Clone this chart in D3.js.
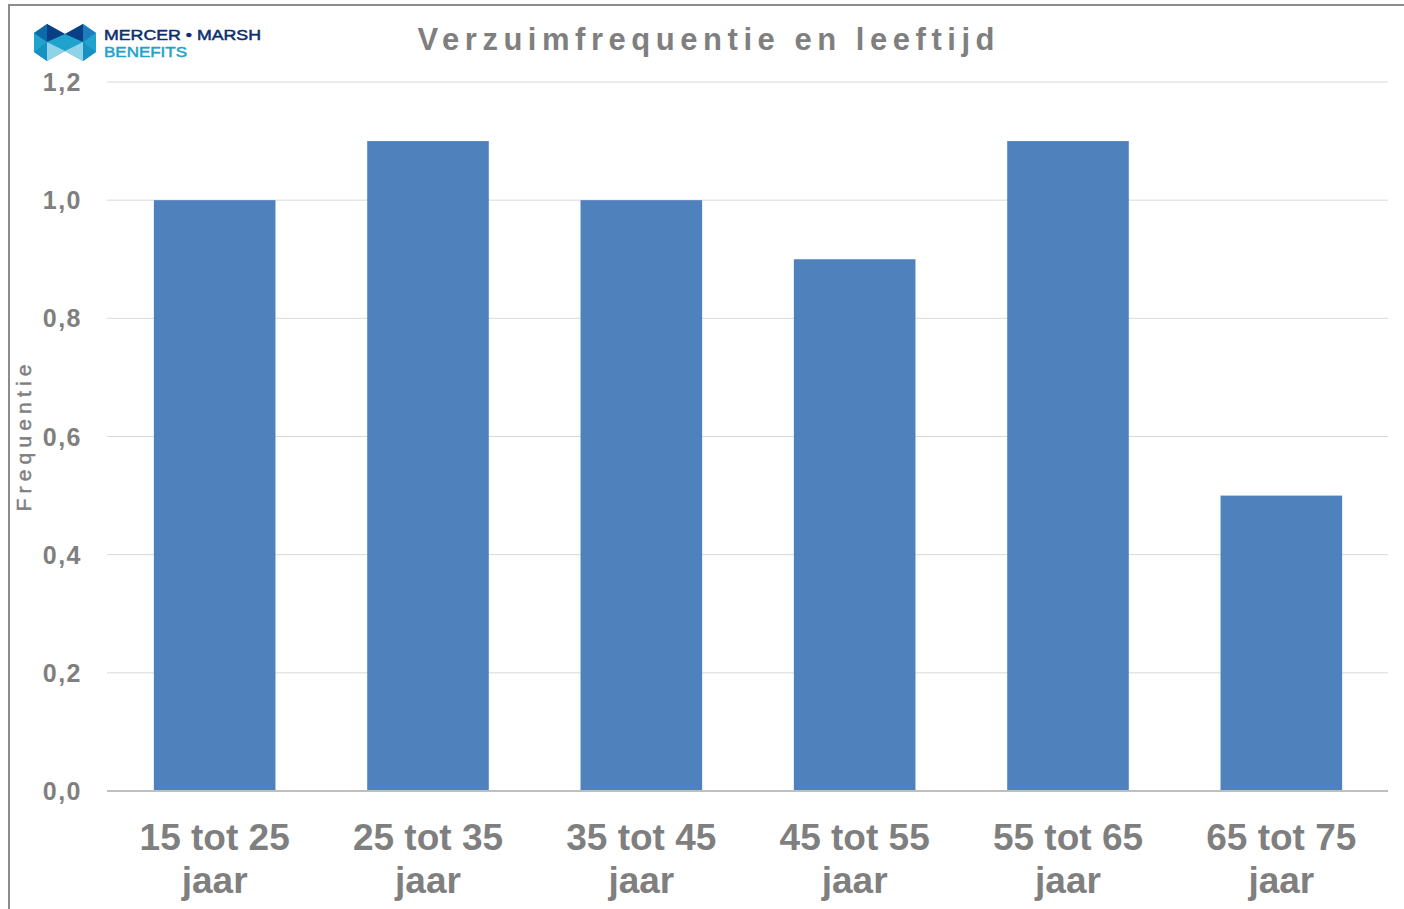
<!DOCTYPE html>
<html>
<head>
<meta charset="utf-8">
<script src="https://cdn.jsdelivr.net/npm/d3@7"></script>
<style>
html,body{margin:0;padding:0;background:#fff;}
svg{display:block;font-family:"Liberation Sans",Arial,sans-serif;}
</style>
</head>
<body>
<svg id="chart" width="1404" height="909"></svg>
<script>
const categories = ["15 tot 25|jaar","25 tot 35|jaar","35 tot 45|jaar","45 tot 55|jaar","55 tot 65|jaar","65 tot 75|jaar"];
const values = [1.0, 1.1, 1.0, 0.9, 1.1, 0.5];
const yTicks = [0, 0.2, 0.4, 0.6, 0.8, 1.0, 1.2];
const title = "Verzuimfrequentie en leeftijd";
const yTitle = "Frequentie";

const svg = d3.select("#chart");
const textGray = "#7f7f7f";

// frame (top and left edges)
svg.append("line").attr("x1",9).attr("x2",1404).attr("y1",5).attr("y2",5).attr("stroke","#8c8c8c").attr("stroke-width",2);
svg.append("line").attr("x1",9).attr("x2",9).attr("y1",4).attr("y2",909).attr("stroke","#8c8c8c").attr("stroke-width",2);

const x = d3.scaleBand().domain(categories).range([108,1388]).paddingInner(0.43).paddingOuter(0.215);
const y = d3.scaleLinear().domain([0,1.2]).range([791,82]);

// gridlines
svg.append("g").selectAll("line").data(yTicks.filter(d=>d>0)).join("line")
  .attr("x1",107).attr("x2",1388)
  .attr("y1",d=>y(d)).attr("y2",d=>y(d))
  .attr("stroke","#d9d9d9").attr("stroke-width",1);

// bars
svg.append("g").selectAll("rect").data(values).join("rect")
  .attr("x",(d,i)=>x(categories[i]))
  .attr("width",x.bandwidth())
  .attr("y",d=>y(d))
  .attr("height",d=>y(0)-y(d))
  .attr("fill","#4f81bd");

// x axis line
svg.append("line").attr("x1",107).attr("x2",1388).attr("y1",y(0)).attr("y2",y(0))
  .attr("stroke","#bfbfbf").attr("stroke-width",2);

// y tick labels
const fmt = d=>d3.format(".1f")(d).replace(".",",");
svg.append("g").selectAll("text").data(yTicks).join("text")
  .attr("x",82).attr("y",d=>y(d)).attr("dy","0.36em")
  .attr("text-anchor","end")
  .attr("font-size",25).attr("font-weight","bold").attr("letter-spacing",1.5)
  .attr("fill",textGray)
  .text(fmt);

// x labels
const xl = svg.append("g").selectAll("text").data(categories).join("text")
  .attr("text-anchor","middle")
  .attr("font-size",37).attr("font-weight","bold")
  .attr("fill",textGray);
xl.each(function(c){
  const parts = c.split("|");
  const cx = x(c)+x.bandwidth()/2;
  d3.select(this).selectAll("tspan").data(parts).join("tspan")
    .attr("x",cx).attr("y",(d,i)=>850+i*43).text(d=>d);
});

// title
svg.append("text").attr("x",706).attr("y",50).attr("text-anchor","middle")
  .attr("font-size",31).attr("font-weight","bold").attr("fill",textGray)
  .attr("textLength",577).attr("lengthAdjust","spacing")
  .text(title);

// y axis title
svg.append("text").attr("transform","translate(31,438) rotate(-90)")
  .attr("text-anchor","middle").attr("font-size",21).attr("fill",textGray)
  .attr("stroke",textGray).attr("stroke-width",0.5)
  .attr("textLength",147).attr("lengthAdjust","spacing")
  .text(yTitle);

// logo
const logo = svg.append("g");
const outline = [[34,33],[47,24],[65,34],[83,24],[96,33],[96,52],[83,61],[65,51],[47,61],[34,52]];
logo.append("polygon").attr("points",outline.map(p=>p.join(",")).join(" ")).attr("fill","#1fa3cc");
const polys = [
  {p:[[34,33],[47,24],[47,42]], c:"#0b6aa8"},
  {p:[[47,24],[65,34],[47,42]], c:"#0b3f84"},
  {p:[[65,34],[83,24],[83,42]], c:"#0b3f84"},
  {p:[[83,24],[96,33],[83,42]], c:"#1b7fbf"},
  {p:[[47,42],[65,51],[47,61]], c:"#8fd3e8"},
  {p:[[65,51],[83,42],[83,61]], c:"#8fd3e8"},
  {p:[[34,52],[47,42],[47,61]], c:"#1591c2"},
  {p:[[83,42],[96,52],[83,61]], c:"#1591c2"}
];
logo.selectAll("polygon.s").data(polys).join("polygon").attr("class","s")
  .attr("points",d=>d.p.map(p=>p.join(",")).join(" ")).attr("fill",d=>d.c);
logo.append("text").attr("x",104).attr("y",40).attr("font-size",15).attr("fill","#0b2f6e")
  .attr("stroke","#0b2f6e").attr("stroke-width",0.5)
  .attr("textLength",157).attr("lengthAdjust","spacingAndGlyphs").text("MERCER • MARSH");
logo.append("text").attr("x",104).attr("y",57).attr("font-size",15).attr("fill","#1fa3cc")
  .attr("stroke","#1fa3cc").attr("stroke-width",0.5)
  .attr("textLength",83).attr("lengthAdjust","spacingAndGlyphs").text("BENEFITS");
</script>
</body>
</html>
